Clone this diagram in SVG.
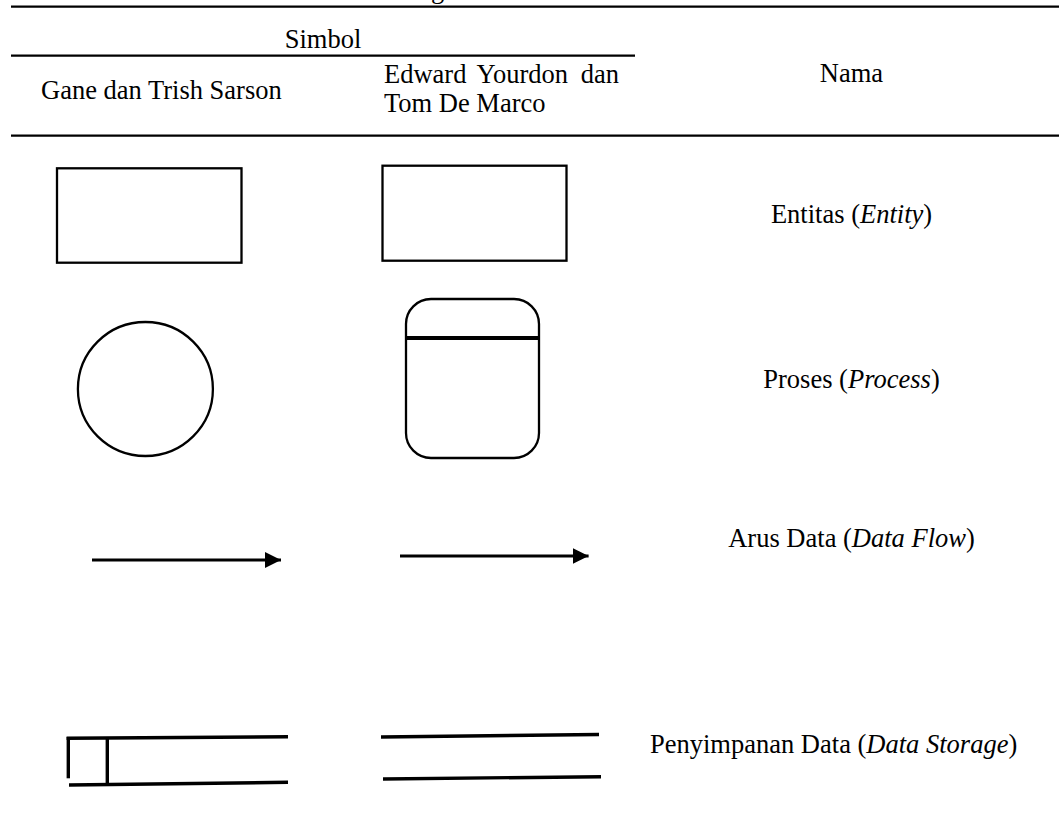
<svg xmlns="http://www.w3.org/2000/svg" width="1059" height="816" viewBox="0 0 1059 816">
<style>
text{font-family:"Liberation Serif","Times New Roman",serif;font-size:26.5px;fill:#000}
.rule{stroke:#000;stroke-width:2.2;fill:none}
.shape{stroke:#000;stroke-width:2.3;fill:none}
.flow{stroke:#000;stroke-width:3;fill:none}
.store{stroke:#000;stroke-width:3.4;fill:none;stroke-linecap:butt}
.it{font-style:italic}
</style>
<defs>
<marker id="ah" markerUnits="userSpaceOnUse" markerWidth="17" markerHeight="16" refX="16" refY="8" orient="auto">
<path d="M0,0 L16,8 L0,16 Z" fill="#000"/>
</marker>
</defs>
<rect width="1059" height="816" fill="#fff"/>
<text x="431" y="-2.5">g</text>
<g id="table-rules">
<line class="rule" x1="11" y1="6.7" x2="1059" y2="6.7"/>
<line class="rule" x1="11" y1="55.7" x2="635" y2="55.7"/>
<line class="rule" x1="11" y1="135.7" x2="1059" y2="135.7"/>
</g>
<g id="header">
<text x="323" y="48" text-anchor="middle">Simbol</text>
<text x="41" y="99.3">Gane dan Trish Sarson</text>
<text x="384" y="83">Edward</text>
<text x="476.5" y="83">Yourdon</text>
<text x="619" y="83" text-anchor="end">dan</text>
<text x="384" y="112">Tom De Marco</text>
<text x="851.5" y="81.7" text-anchor="middle">Nama</text>
</g>
<g id="entity">
<rect class="shape" x="57" y="168.3" width="184.5" height="94.4"/>
<rect class="shape" x="382.5" y="165.7" width="184" height="95"/>
<text x="851.5" y="223.3" text-anchor="middle">Entitas (<tspan class="it">Entity</tspan>)</text>
</g>
<g id="process">
<ellipse class="shape" cx="145.4" cy="389" rx="67.5" ry="67"/>
<rect class="shape" x="406" y="299" width="133" height="159" rx="25" ry="25"/>
<line x1="406" y1="338" x2="539" y2="338" stroke="#000" stroke-width="4"/>
<text x="851.5" y="388" text-anchor="middle">Proses (<tspan class="it">Process</tspan>)</text>
</g>
<g id="connectors">
<line class="flow" x1="92" y1="560" x2="281" y2="560" marker-end="url(#ah)"/>
<line class="flow" x1="400" y1="556" x2="588.6" y2="556" marker-end="url(#ah)"/>
</g>
<g id="dataflow">
<text x="851.5" y="547" text-anchor="middle">Arus Data (<tspan class="it">Data Flow</tspan>)</text>
</g>
<g id="storage">
<line class="store" x1="66.6" y1="738.3" x2="288" y2="736.7"/>
<line class="store" x1="68.3" y1="737" x2="68.3" y2="778.3"/>
<line class="store" x1="107.3" y1="739" x2="107.3" y2="783"/>
<line class="store" x1="69" y1="785" x2="288" y2="782.3"/>
<line class="store" x1="381" y1="737" x2="599" y2="734.5"/>
<line class="store" x1="383" y1="779" x2="601" y2="776.7"/>
<text x="650" y="752.7">Penyimpanan Data (<tspan class="it">Data Storage</tspan>)</text>
</g>
</svg>
